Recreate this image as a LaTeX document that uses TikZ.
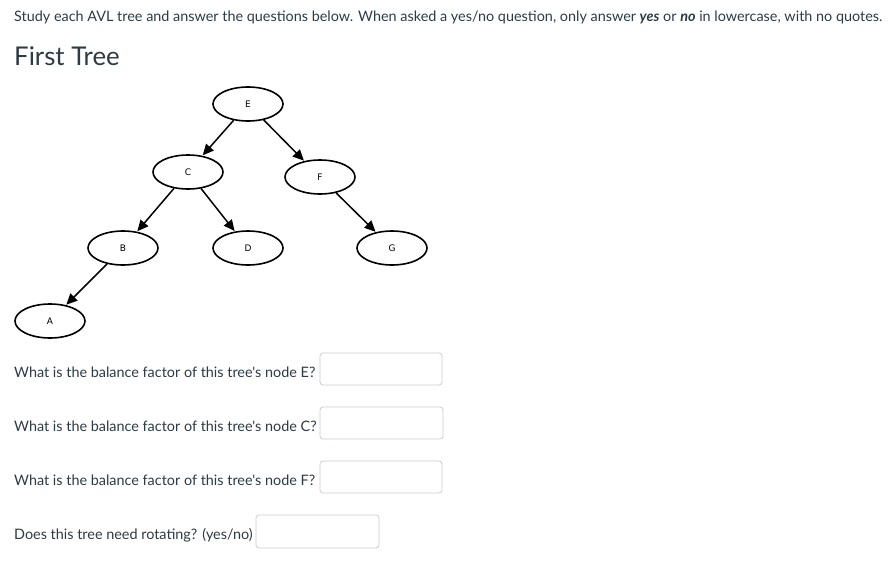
\documentclass[tikz,border=0pt]{standalone}
\usepackage{fontspec}
\setmainfont{Lato}
\newfontfamily\latoplain{Lato}
\newfontfamily\nodefont{DejaVu Sans}
\usetikzlibrary{arrows.meta,shapes.geometric}
\definecolor{txt}{HTML}{2D3B45}
\definecolor{boxc}{HTML}{C7CDD1}
\tikzset{
  tnode/.style={ellipse,draw=black,line width=1.6pt,minimum width=70pt,minimum height=34pt,inner sep=0pt,font=\nodefont\fontsize{9}{10}\selectfont},
  tedge/.style={line width=1.5pt,-{Triangle[length=11pt,width=10pt]},shorten >=0.5pt},
  qtext/.style={anchor=base west,text=txt,font=\latoplain\fontsize{14.4}{16}\selectfont,inner sep=0pt},
  ansbox/.style={draw=boxc,line width=0.8pt,rounded corners=3pt,fill=white}
}
\begin{document}
\begin{tikzpicture}[x=1pt,y=-1pt]
\useasboundingbox[fill=white] (0,0) rectangle (889,570);
\node[qtext] (hdr) at (14,21) {Study each AVL tree and answer the questions below. When asked a yes/no question, only answer \textbf{\textit{yes}} or \textbf{\textit{no}} in lowercase, with no quotes.};
\node[qtext,font=\latoplain\fontsize{25.8}{30}\selectfont] (title) at (14,65) {First Tree};
\node[tnode] (E) at (248,104) {E};
\node[tnode] (C) at (188,172) {C};
\node[tnode] (F) at (320,177) {F};
\node[tnode] (B) at (123,248) {B};
\node[tnode] (D) at (248,248) {D};
\node[tnode] (G) at (392,248) {G};
\node[tnode] (A) at (50,321) {A};
\draw[tedge] (E) -- (C);
\draw[tedge] (E) -- (F);
\draw[tedge] (C) -- (B);
\draw[tedge] (C) -- (D);
\draw[tedge] (F) -- (G);
\draw[tedge] (B) -- (A);
\node[qtext] (q1) at (14,377) {What is the balance factor of this tree's node E?};
\draw[ansbox] (320,353) rectangle (442,385) coordinate (b1);
\node[qtext] (q2) at (14,431) {What is the balance factor of this tree's node C?};
\draw[ansbox] (320,407) rectangle (443,439) coordinate (b2);
\node[qtext] (q3) at (14,485) {What is the balance factor of this tree's node F?};
\draw[ansbox] (320,461) rectangle (442,493) coordinate (b3);
\node[qtext] (q4) at (14,539) {Does this tree need rotating? (yes/no)};
\draw[ansbox] (256,515) rectangle (379,548) coordinate (b4);
\end{tikzpicture}
\end{document}
